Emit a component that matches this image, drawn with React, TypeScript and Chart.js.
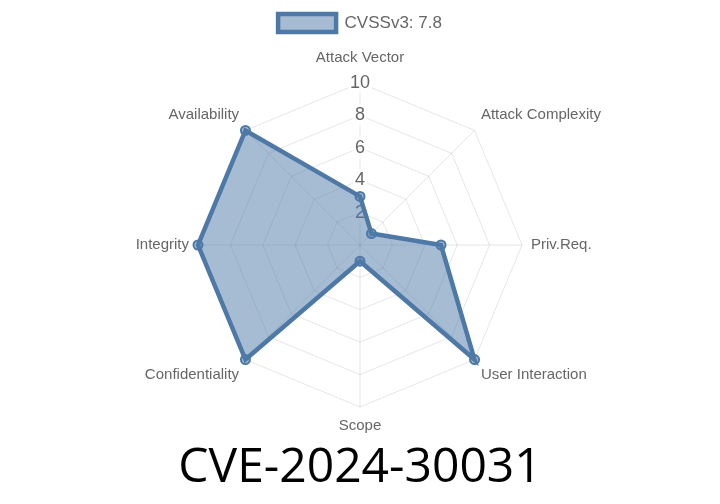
import React, { useEffect, useRef } from "react";
import { Chart, registerables } from "chart.js";

Chart.register(...registerables);

const categories = [
  "Attack Vector",
  "Attack Complexity",
  "Priv.Req.",
  "User Interaction",
  "Scope",
  "Confidentiality",
  "Integrity",
  "Availability",
];
const seriesLabel = "CVSSv3: 7.8";
const seriesValues = [3, 1, 5, 10, 1, 10, 10, 10];
const titleText = "CVE-2024-30031";

export default function App() {
  const ref = useRef<HTMLCanvasElement | null>(null);
  useEffect(() => {
    document.body.style.margin = "0";
    const ctx = ref.current!;
    const chart = new Chart(ctx, {
      type: "radar",
      data: {
        labels: categories,
        datasets: [
          {
            label: seriesLabel,
            data: seriesValues,
            borderColor: "rgb(78,121,167)",
            backgroundColor: "rgba(78,121,167,0.5)",
            borderWidth: 4.5,
            pointRadius: 4.5,
            pointBorderWidth: 2,
            pointBackgroundColor: "rgba(78,121,167,0.5)",
            pointBorderColor: "rgb(78,121,167)",
            fill: true,
          },
        ],
      },
      options: {
        animation: false,
        responsive: false,
        maintainAspectRatio: false,
        layout: { padding: { top: 4, bottom: 7 } },
        font: { family: "'Liberation Sans', Arial, sans-serif" },
        plugins: {
          legend: {
            display: true,
            position: "top",
            labels: {
              boxWidth: 58,
              boxHeight: 18,
              color: "#666",
              font: { size: 17, family: "'Liberation Sans', Arial, sans-serif" },
            },
          },
          subtitle: {
            display: true,
            position: "top",
            text: "",
            weight: 500,
            padding: 0,
            font: { size: 2, lineHeight: "4px" },
          },
          title: {
            display: true,
            position: "bottom",
            text: titleText,
            color: "#000",
            font: { size: 48, weight: "normal", family: "'Open Sans', sans-serif" },
            padding: { top: 0, bottom: 0 },
          },
          tooltip: { enabled: false },
        },
        scales: {
          r: {
            min: 0,
            max: 10,
            ticks: {
              stepSize: 2,
              color: "#666",
              font: { size: 18, family: "'Liberation Sans', Arial, sans-serif" },
              showLabelBackdrop: true,
              backdropColor: "rgba(255,255,255,0.75)",
            },
            grid: { color: "rgba(0,0,0,0.1)" },
            angleLines: { color: "rgba(0,0,0,0.1)" },
            pointLabels: {
              color: "#666",
              padding: (c: any) => (c.index === 0 ? 5 : c.index === 4 ? -1 : -2),
              font: { size: 15, family: "'Liberation Sans', Arial, sans-serif" },
            },
          },
        },
      },
    } as any);
    return () => chart.destroy();
  }, []);
  return (
    <div style={{ width: 720, height: 504 }}>
      <canvas ref={ref} width={720} height={504} style={{ display: "block" }} />
    </div>
  );
}
